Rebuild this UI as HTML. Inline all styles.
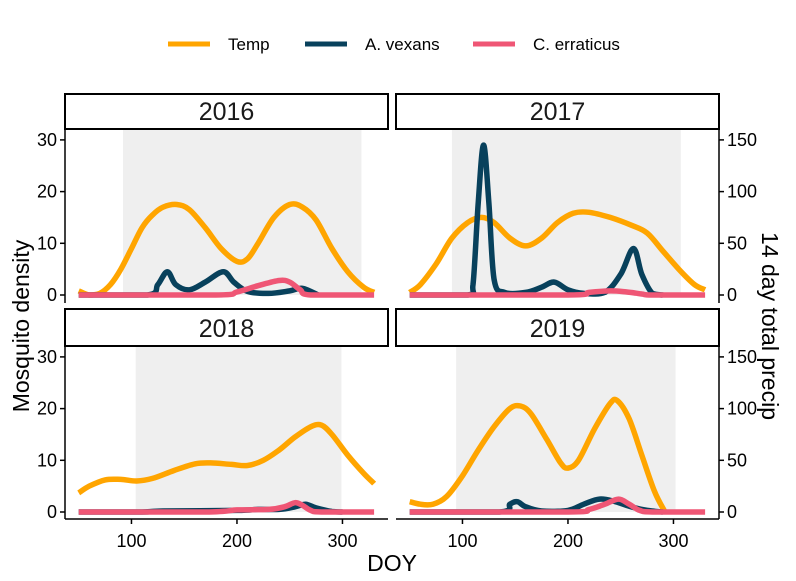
<!DOCTYPE html>
<html><head><meta charset="utf-8"><style>
body{margin:0;background:#fff}
svg{display:block;font-family:"Liberation Sans",Arial,sans-serif}
</style></head><body>
<svg id="c" width="796" height="581" xmlns="http://www.w3.org/2000/svg"></svg>
<script>
const years=["2016","2017","2018","2019"];
const seasonStart=[92,90,104,94];
const seasonEnd=[318,307,299,302];
const tempDoy=[[50,60,70,80,90,100,110,120,130,143,155,170,185,200,210,220,235,250,262,275,290,305,320,330],
[50,60,75,90,105,118,130,145,160,175,190,205,220,240,260,275,290,305,320,330],
[50,60,75,90,105,120,140,160,175,195,210,225,240,255,270,280,290,305,320,330],
[50,60,72,85,100,115,130,145,155,165,180,193,200,210,225,240,247,258,270,282,292]];
const tempVal=[[0.8,0,0.3,2,5,9,13,15.5,17,17.5,16.5,13,9,6.5,7,10,15,17.5,17,14.5,9,4.5,1.5,0.5],
[0.5,2,6,11,14,15,14,11,9.5,11,14,15.8,16,15,13.5,12,8.5,5,2,1],
[3.7,5,6.2,6.3,6,6.5,8,9.3,9.5,9.2,9,10,12,14.5,16.5,16.8,15,11,7.5,5.5],
[2,1.5,1.5,3,7,12,16.5,20,20.5,19,14,9.5,8.5,10,16,21,21.5,18,11,4,0]];
const vexDoy=[[50,115,125,134,142,155,170,187,197,210,230,250,262,277],
[50,105,110,115,120,125,130,140,160,175,187,200,215,235,250,262,270,280,290],
[50,110,130,200,220,240,255,265,275,290,300],
[50,135,145,152,160,175,200,215,230,245,260,275,290]];
const vexVal=[[0,0,2,4.5,2,1,2.5,4.5,2.5,0.7,0.3,0.8,1.3,0],
[0,0,2,18,29,18,3,0.5,0.5,1.5,2.5,1,0.3,0.5,4,9,4,0.3,0],
[0,0,0.2,0.3,0.5,0.5,1,1.5,0.8,0.1,0],
[0,0,1.5,2,1,0.2,0.3,1.5,2.5,2,1,0.3,0]];
const errDoy=[[50,180,200,220,240,250,260,270,330],
[50,200,220,240,255,270,280,330],
[50,170,200,230,245,255,262,270,280,330],
[50,200,220,235,248,258,268,280,330]];
const errVal=[[0,0,0.6,1.8,2.8,2.5,1,0,0],
[0,0,0.5,0.8,0.6,0.2,0,0],
[0,0,0.4,0.5,1,1.8,1.3,0.3,0,0],
[0,0,0.5,1.5,2.5,1.5,0.3,0,0]];
const yTicks=[0,10,20,30];
const y2Ticks=[0,50,100,150];
const xTicks=[100,200,300];

const NS="http://www.w3.org/2000/svg";
const svg=document.getElementById('c');
function mk(t,a,p){const e=document.createElementNS(NS,t);for(const k in a)e.setAttribute(k,a[k]);(p||svg).appendChild(e);return e;}
const panels=[{x0:65,top:94,strip:129},{x0:396,top:94,strip:129},{x0:65,top:309,strip:346},{x0:396,top:309,strip:346}];
const PW=323;
function xs(p,d){return p.x0+(d-37)*1.055;}
function ys(p,v){const zero=p.strip+166;return zero-v*5.17;}
function smooth(pts,zero){let d="M"+pts[0][0]+","+pts[0][1];
for(let i=0;i<pts.length-1;i++){const p0=pts[i-1]||pts[i],p1=pts[i],p2=pts[i+1],p3=pts[i+2]||p2;
const c1=[p1[0]+(p2[0]-p0[0])/6,Math.min(zero,p1[1]+(p2[1]-p0[1])/6)],c2=[p2[0]-(p3[0]-p1[0])/6,Math.min(zero,p2[1]-(p3[1]-p1[1])/6)];
d+=` C${c1[0].toFixed(1)},${c1[1].toFixed(1)} ${c2[0].toFixed(1)},${c2[1].toFixed(1)} ${p2[0].toFixed(1)},${p2[1].toFixed(1)}`;}
return d;}
const leg=[["Temp","#FFA500",168],["A. vexans","#08415C",305],["C. erraticus","#EF5675",473]];
leg.forEach(l=>{const g=mk('g',{});


mk('line',{x1:l[2],y1:44,x2:l[2]+42,y2:44,stroke:l[1],'stroke-width':5},g);
const t=mk('text',{x:l[2]+60,y:50,'font-size':17,fill:'#000'},g);t.textContent=l[0];});

panels.forEach((p,i)=>{
const g=mk('g',{});


const bottom=i<2?303:519;
const zero=ys(p,0);
const sh=mk('rect',{x:xs(p,seasonStart[i]),y:p.strip,width:xs(p,seasonEnd[i])-xs(p,seasonStart[i]),height:zero-p.strip,fill:'#EFEFEF'},g);


const st=mk('rect',{x:p.x0,y:p.top,width:PW,height:p.strip-p.top,fill:'#fff',stroke:'#000','stroke-width':2},g);


const sl=mk('text',{x:p.x0+PW/2,y:p.strip-9,'font-size':25,'text-anchor':'middle',fill:'#1a1a1a'},g);sl.textContent=years[i];


const series=[[tempDoy,tempVal,'#FFA500','temp-line'],[vexDoy,vexVal,'#08415C','vexans-line'],[errDoy,errVal,'#EF5675','erraticus-line']];
series.forEach(s=>{const pts=s[0][i].map((d,k)=>[xs(p,d),ys(p,s[1][i][k])]);
const pa=mk('path',{d:smooth(pts,zero),fill:'none',stroke:s[2],'stroke-width':5.5,'stroke-linejoin':'round'},g);

});
if(i%2===0){mk('line',{x1:p.x0,y1:p.strip,x2:p.x0,y2:bottom,stroke:'#000','stroke-width':1.5},g);
yTicks.forEach(v=>{mk('line',{x1:p.x0-5,y1:ys(p,v),x2:p.x0,y2:ys(p,v),stroke:'#000','stroke-width':1.5},g);
const t=mk('text',{x:p.x0-8,y:ys(p,v)+6,'font-size':18,'text-anchor':'end'},g);t.textContent=v;

});}
else{const xr=p.x0+PW;mk('line',{x1:xr,y1:p.strip,x2:xr,y2:bottom,stroke:'#000','stroke-width':1.5},g);
y2Ticks.forEach(v=>{const y=ys(p,v/5);mk('line',{x1:xr,y1:y,x2:xr+5,y2:y,stroke:'#000','stroke-width':1.5},g);
const t=mk('text',{x:xr+8,y:y+6,'font-size':18},g);t.textContent=v;

});}
if(i>=2){mk('line',{x1:p.x0,y1:519,x2:p.x0+PW,y2:519,stroke:'#000','stroke-width':1.5},g);
xTicks.forEach(v=>{mk('line',{x1:xs(p,v),y1:519,x2:xs(p,v),y2:524,stroke:'#000','stroke-width':1.5},g);
const t=mk('text',{x:xs(p,v),y:547,'font-size':18,'text-anchor':'middle'},g);t.textContent=v;

});}
});
const yt=mk('text',{x:0,y:0,'font-size':23,'text-anchor':'middle',transform:'translate(29,326) rotate(-90)'});yt.textContent='Mosquito density';


const y2=mk('text',{x:0,y:0,'font-size':23,'text-anchor':'middle',transform:'translate(762,326) rotate(90)'});y2.textContent='14 day total precip';


const xt=mk('text',{x:392,y:571,'font-size':23,'text-anchor':'middle'});xt.textContent='DOY';


</script>
</body></html>
